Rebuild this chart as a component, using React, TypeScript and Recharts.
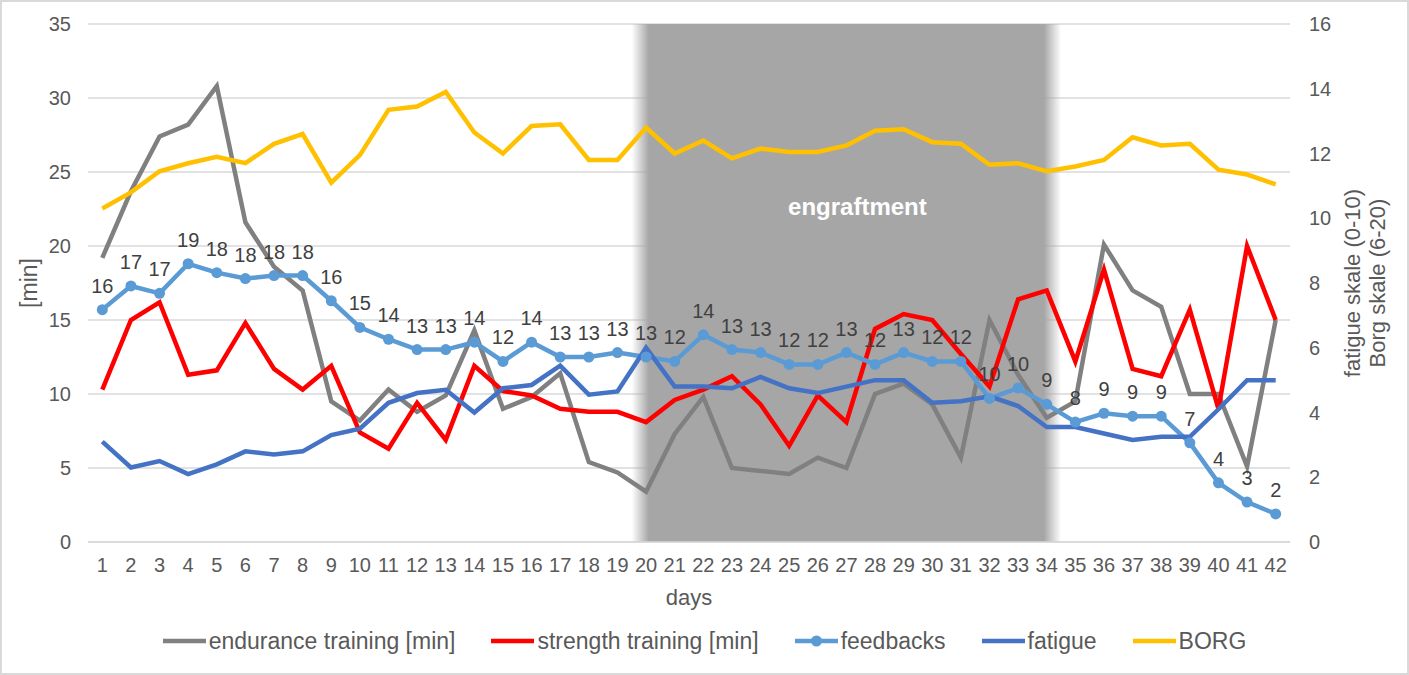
import React from 'react';
import {
  LineChart,
  Line,
  XAxis,
  YAxis,
  CartesianGrid,
  ReferenceArea,
  Legend,
  LabelList,
} from 'recharts';

// categories
const days = [
  1, 2, 3, 4, 5, 6, 7, 8, 9, 10, 11, 12, 13, 14, 15, 16, 17, 18, 19, 20, 21,
  22, 23, 24, 25, 26, 27, 28, 29, 30, 31, 32, 33, 34, 35, 36, 37, 38, 39, 40, 41, 42,
];

// left axis [min]
const endurance = [
  19.2, 23.7, 27.4, 28.2, 30.8, 21.6, 18.6, 17.0, 9.5, 8.2, 10.3, 8.8, 9.9, 14.3,
  9.0, 9.8, 11.4, 5.4, 4.7, 3.4, 7.3, 9.8, 5.0, 4.8, 4.6, 5.7, 5.0, 10.0, 10.7,
  9.3, 5.7, 15.0, 11.3, 8.4, 9.5, 20.1, 17.0, 15.9, 10.0, 10.0, 5.1, 15.0,
];
const strength = [
  10.3, 15.0, 16.2, 11.3, 11.6, 14.8, 11.7, 10.3, 11.9, 7.4, 6.3, 9.4, 6.9, 11.9,
  10.2, 9.9, 9.0, 8.8, 8.8, 8.1, 9.6, 10.3, 11.2, 9.3, 6.5, 9.9, 8.1, 14.4, 15.4,
  15.0, 12.7, 10.5, 16.4, 17.0, 12.2, 18.4, 11.7, 11.2, 15.7, 9.0, 20.0, 15.0,
];
const feedbacks = [
  15.7, 17.3, 16.8, 18.8, 18.2, 17.8, 18.0, 18.0, 16.3, 14.5, 13.7, 13.0, 13.0, 13.5,
  12.2, 13.5, 12.5, 12.5, 12.8, 12.5, 12.2, 14.0, 13.0, 12.8, 12.0, 12.0, 12.8, 12.0,
  12.8, 12.2, 12.2, 9.7, 10.4, 9.3, 8.1, 8.7, 8.5, 8.5, 6.7, 4.0, 2.7, 1.9,
];

// right axis (fatigue 0-10, Borg 6-20)
const fatigue = [
  3.1, 2.3, 2.5, 2.1, 2.4, 2.8, 2.7, 2.8, 3.3, 3.5, 4.3, 4.6, 4.7, 4.0, 4.75, 4.85,
  5.45, 4.55, 4.65, 6.0, 4.8, 4.8, 4.75, 5.1, 4.75, 4.6, 4.8, 5.0, 5.0, 4.3, 4.35,
  4.5, 4.2, 3.55, 3.55, 3.35, 3.15, 3.25, 3.25, 4.1, 5.0, 5.0,
];
const borg = [
  10.3, 10.8, 11.45, 11.7, 11.9, 11.7, 12.3, 12.6, 11.1, 11.95, 13.35, 13.45, 13.9,
  12.65, 12.0, 12.85, 12.9, 11.8, 11.8, 12.8, 12.0, 12.4, 11.85, 12.15, 12.05, 12.05,
  12.25, 12.7, 12.75, 12.35, 12.3, 11.65, 11.7, 11.45, 11.6, 11.8, 12.5, 12.25, 12.3,
  11.5, 11.35, 11.05,
];

const leftTicks = [0, 5, 10, 15, 20, 25, 30, 35];
const rightTicks = [0, 2, 4, 6, 8, 10, 12, 14, 16];
const engraftmentStart = 20;
const engraftmentEnd = 34;

const FONT = 'Arial, "Liberation Sans", sans-serif';
const TICK_COLOR = '#595959';
const GRID_COLOR = '#d9d9d9';

const data = days.map((day, i) => ({
  day,
  endurance: endurance[i],
  strength: strength[i],
  feedbacks: feedbacks[i],
  fatigue: fatigue[i],
  borg: borg[i],
}));

const series = [
  { key: 'endurance', name: 'endurance training [min]', color: '#808080', axis: 'left', dot: false },
  { key: 'strength', name: 'strength training [min]', color: '#ff0000', axis: 'left', dot: false },
  { key: 'feedbacks', name: 'feedbacks', color: '#5b9bd5', axis: 'left', dot: true },
  { key: 'fatigue', name: 'fatigue', color: '#4472c4', axis: 'right', dot: false },
  { key: 'borg', name: 'BORG', color: '#ffc000', axis: 'right', dot: false },
];

const LegendContent = () => (
  <div
    style={{
      display: 'flex',
      justifyContent: 'center',
      alignItems: 'center',
      height: 32,
      fontFamily: FONT,
      fontSize: 23,
      color: TICK_COLOR,
    }}
  >
    {series.map((s, i) => (
      <div
        key={s.key}
        style={{ display: 'flex', alignItems: 'center', marginLeft: i === 0 ? 0 : 36 }}
      >
        <svg width={43} height={12}>
          <line x1={0} y1={6} x2={43} y2={6} stroke={s.color} strokeWidth={4.5} />
          {s.dot && <circle cx={21.5} cy={6} r={5.5} fill={s.color} />}
        </svg>
        <span style={{ marginLeft: 3, whiteSpace: 'nowrap' }}>{s.name}</span>
      </div>
    ))}
  </div>
);

const LeftTitle = ({ viewBox }: any) => {
  const cx = 29;
  const cy = viewBox.y + viewBox.height / 2;
  return (
    <text
      x={cx}
      y={cy}
      transform={`rotate(-90 ${cx} ${cy})`}
      textAnchor="middle"
      dominantBaseline="central"
      fill={TICK_COLOR}
      fontSize={23}
      fontFamily={FONT}
    >
      [min]
    </text>
  );
};

const RightTitle = ({ viewBox }: any) => {
  const cy = viewBox.y + viewBox.height / 2;
  const x1 = viewBox.x + 62;
  const x2 = viewBox.x + 87;
  return (
    <g fill={TICK_COLOR} fontSize={22} fontFamily={FONT}>
      <text x={x1} y={cy} transform={`rotate(-90 ${x1} ${cy})`} textAnchor="middle" dominantBaseline="central">
        fatigue skale (0-10)
      </text>
      <text x={x2} y={cy} transform={`rotate(-90 ${x2} ${cy})`} textAnchor="middle" dominantBaseline="central">
        Borg skale (6-20)
      </text>
    </g>
  );
};

const BottomTitle = ({ viewBox }: any) => (
  <text
    x={viewBox.x + viewBox.width / 2}
    y={viewBox.y + 63}
    textAnchor="middle"
    fill={TICK_COLOR}
    fontSize={22}
    fontFamily={FONT}
  >
    days
  </text>
);

const ShadeLabel = ({ viewBox }: any) => (
  <text
    x={viewBox.x + viewBox.width / 2 + 11}
    y={viewBox.y + 191}
    textAnchor="middle"
    fill="#ffffff"
    fontSize={24}
    fontWeight="bold"
    fontFamily={FONT}
  >
    engraftment
  </text>
);

export default function App() {
  const tickStyle = { fill: TICK_COLOR, fontSize: 20, fontFamily: FONT };
  return (
    <div style={{ position: 'absolute', left: 0, top: 0, width: 1409, height: 675, background: '#fff' }}>
      <LineChart
        width={1409}
        height={675}
        data={data}
        margin={{ top: 24, right: 19, bottom: 41, left: 28 }}
      >
        <defs>
          <linearGradient id="shade" x1="0" y1="0" x2="1" y2="0">
            <stop offset="0%" stopColor="#a6a6a6" stopOpacity={0} />
            <stop offset="4%" stopColor="#a6a6a6" stopOpacity={1} />
            <stop offset="96%" stopColor="#a6a6a6" stopOpacity={1} />
            <stop offset="100%" stopColor="#a6a6a6" stopOpacity={0} />
          </linearGradient>
        </defs>
        <ReferenceArea
          yAxisId="left"
          x1={engraftmentStart}
          x2={engraftmentEnd}
          fill="url(#shade)"
          fillOpacity={1}
          stroke="none"
          label={<ShadeLabel />}
        />
        <CartesianGrid yAxisId="left" vertical={false} stroke={GRID_COLOR} strokeWidth={1.5} />
        <XAxis
          dataKey="day"
          scale="band"
          height={60}
          tickLine={false}
          axisLine={{ stroke: GRID_COLOR, strokeWidth: 1.5 }}
          tick={tickStyle}
          tickMargin={10}
          interval={0}
          label={<BottomTitle />}
        />
        <YAxis
          yAxisId="left"
          width={60}
          domain={[0, 35]}
          ticks={leftTicks}
          tickLine={false}
          axisLine={false}
          tick={tickStyle}
          tickMargin={11}
          label={<LeftTitle />}
        />
        <YAxis
          yAxisId="right"
          orientation="right"
          width={100}
          domain={[0, 16]}
          ticks={rightTicks}
          tickLine={false}
          axisLine={false}
          tick={tickStyle}
          tickMargin={13}
          label={<RightTitle />}
        />
        <Legend
          verticalAlign="bottom"
          content={<LegendContent />}
          wrapperStyle={{ left: 0, top: 625, width: 1409, height: 32 }}
        />
        {series.map((s) => (
          <Line
            key={s.key}
            yAxisId={s.axis}
            dataKey={s.key}
            name={s.name}
            type="linear"
            stroke={s.color}
            strokeWidth={4.5}
            dot={s.dot ? { r: 5.5, fill: s.color, stroke: 'none' } : false}
            activeDot={false}
            isAnimationActive={false}
          >
            {s.dot && (
              <LabelList
                dataKey={s.key}
                position="top"
                offset={17}
                formatter={(v: any) => Math.round(Number(v))}
                fill="#404040"
                fontSize={20}
                fontFamily={FONT}
              />
            )}
          </Line>
        ))}
      </LineChart>
      <div
        style={{
          position: 'absolute',
          inset: 0,
          border: '2px solid #d9d9d9',
          pointerEvents: 'none',
        }}
      />
    </div>
  );
}
